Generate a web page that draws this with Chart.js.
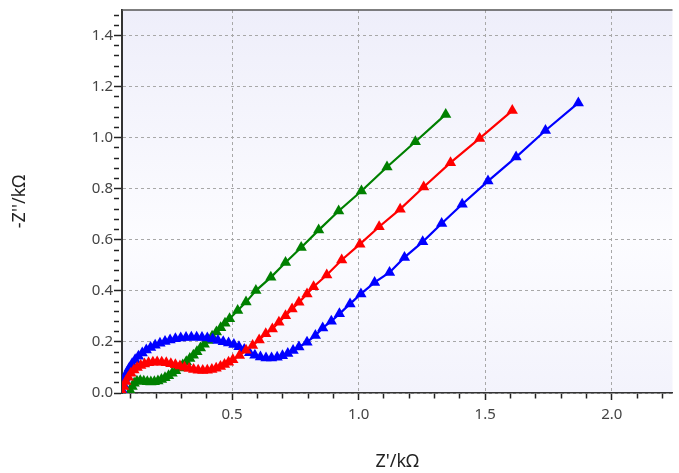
<!DOCTYPE html>
<html lang="en">

<head>
  <title></title>
  <meta charset="UTF-8">
  <script src="https://cdn.jsdelivr.net/npm/chart.js@4.4.1/dist/chart.umd.min.js"></script>
  <style>
    body { margin: 0; background: #fff; }
  </style>
</head>

<body>
  <canvas id="myChart" width="679" height="473"></canvas>
  <script>
    // Z' (kOhm), -Z'' (kOhm)
    const green = [
      [0.098, 0.008], [0.105, 0.025], [0.113, 0.038], [0.124, 0.046], [0.137, 0.048], [0.151, 0.046],
      [0.165, 0.044], [0.179, 0.043], [0.193, 0.044], [0.207, 0.047], [0.221, 0.053], [0.235, 0.060],
      [0.249, 0.068], [0.263, 0.077], [0.277, 0.087], [0.291, 0.098], [0.305, 0.110], [0.319, 0.122],
      [0.333, 0.135], [0.347, 0.148], [0.361, 0.162], [0.375, 0.176], [0.390, 0.191], [0.405, 0.206],
      [0.421, 0.222], [0.438, 0.239], [0.455, 0.256], [0.472, 0.273], [0.490, 0.291], [0.522, 0.323],
      [0.555, 0.356], [0.594, 0.401], [0.653, 0.453], [0.711, 0.511], [0.773, 0.570], [0.842, 0.638],
      [0.921, 0.713], [1.011, 0.791], [1.112, 0.885], [1.224, 0.984], [1.344, 1.091]
    ];
    const red = [
      [0.066, 0.004], [0.072, 0.025], [0.080, 0.045], [0.090, 0.062], [0.100, 0.077], [0.112, 0.090],
      [0.125, 0.100], [0.139, 0.108], [0.154, 0.114], [0.170, 0.118], [0.187, 0.120], [0.204, 0.121],
      [0.222, 0.120], [0.240, 0.118], [0.258, 0.115], [0.276, 0.111], [0.294, 0.106], [0.312, 0.101],
      [0.330, 0.096], [0.348, 0.092], [0.366, 0.089], [0.384, 0.088], [0.402, 0.089], [0.420, 0.092],
      [0.437, 0.097], [0.454, 0.104], [0.470, 0.112], [0.486, 0.120], [0.503, 0.130], [0.529, 0.147],
      [0.555, 0.167], [0.581, 0.186], [0.607, 0.208], [0.633, 0.232], [0.659, 0.251], [0.685, 0.277],
      [0.711, 0.303], [0.737, 0.329], [0.764, 0.355], [0.796, 0.388], [0.822, 0.416], [0.874, 0.462],
      [0.933, 0.521], [1.005, 0.583], [1.081, 0.651], [1.164, 0.720], [1.257, 0.807], [1.363, 0.902],
      [1.478, 0.997], [1.607, 1.106]
    ];
    const blue = [
      [0.066, 0.010], [0.070, 0.035], [0.076, 0.058], [0.084, 0.079], [0.094, 0.098], [0.105, 0.115],
      [0.117, 0.130], [0.130, 0.144], [0.145, 0.157], [0.161, 0.168], [0.178, 0.178], [0.196, 0.187],
      [0.215, 0.195], [0.235, 0.202], [0.255, 0.208], [0.276, 0.212], [0.297, 0.215], [0.318, 0.217],
      [0.339, 0.218], [0.360, 0.218], [0.381, 0.217], [0.402, 0.215], [0.423, 0.211], [0.444, 0.206],
      [0.465, 0.201], [0.486, 0.196], [0.507, 0.190], [0.527, 0.181], [0.548, 0.170], [0.569, 0.158],
      [0.590, 0.148], [0.612, 0.141], [0.634, 0.137], [0.656, 0.137], [0.678, 0.140], [0.699, 0.146],
      [0.720, 0.155], [0.741, 0.166], [0.764, 0.180], [0.796, 0.199], [0.829, 0.225], [0.858, 0.255],
      [0.892, 0.281], [0.924, 0.310], [0.966, 0.349], [1.009, 0.388], [1.063, 0.433], [1.122, 0.472],
      [1.181, 0.531], [1.253, 0.592], [1.328, 0.664], [1.409, 0.739], [1.511, 0.830], [1.622, 0.924],
      [1.738, 1.028], [1.868, 1.136]
    ];

    const xLabels = [0.5, 1.0, 1.5, 2.0];
    const yLabels = [0.0, 0.2, 0.4, 0.6, 0.8, 1.0, 1.2, 1.4];
    const xMinorStep = 0.1;
    const yMinorStep = 0.04;

    const isLabelled = (v, list) => list.some(l => Math.abs(l - v) < 1e-6);

    function minorTicks(min, max, step) {
      const out = [];
      for (let i = Math.ceil(min / step - 1e-6); i * step <= max + 1e-6; i++) {
        out.push({ value: Math.round(i * step * 1000) / 1000 });
      }
      return out;
    }

    const toPoints = arr => arr.map(p => ({ x: p[0], y: p[1] }));

    function series(label, data, color) {
      return {
        label: label,
        data: toPoints(data),
        showLine: true,
        borderColor: color,
        backgroundColor: color,
        borderWidth: 2.2,
        pointStyle: 'triangle',
        pointRadius: 6.5,
        pointHoverRadius: 6.5,
        pointBorderWidth: 0
      };
    }

    // plot area background and the top frame line
    const frame = {
      id: 'frame',
      beforeDraw(chart) {
        const { ctx, chartArea: a } = chart;
        const g = ctx.createLinearGradient(0, a.top, 0, a.bottom);
        g.addColorStop(0, '#eeeefa');
        g.addColorStop(0.6, '#fcfcff');
        g.addColorStop(1, '#f3f3fc');
        ctx.save();
        ctx.fillStyle = g;
        ctx.fillRect(a.left, a.top, a.right - a.left, a.bottom - a.top);
        ctx.restore();
      },
      afterDraw(chart) {
        const { ctx, chartArea: a } = chart;
        ctx.save();
        ctx.strokeStyle = '#555';
        ctx.lineWidth = 1.5;
        ctx.beginPath();
        ctx.moveTo(a.left, a.top);
        ctx.lineTo(a.right, a.top);
        ctx.stroke();
        ctx.restore();
      }
    };

    const tickFont = { family: 'Noto Sans', size: 15 };
    const titleFont = { family: 'Noto Sans', size: 18 };

    new Chart('myChart', {
      type: 'scatter',
      data: {
        datasets: [
          series('red', red, '#ff0000'),
          series('blue', blue, '#0000ff'),
          series('green', green, '#008000')
        ]
      },
      options: {
        responsive: false,
        animation: false,
        layout: { padding: { top: 9, right: 0, left: 0, bottom: 0 } },
        plugins: { legend: { display: false }, tooltip: { enabled: false } },
        scales: {
          x: {
            type: 'linear',
            min: 0.065,
            max: 2.24,
            afterBuildTicks: s => { s.ticks = minorTicks(0.065, 2.24, xMinorStep); },
            afterFit: s => { s.height = 80; },
            ticks: {
              autoSkip: false,
              maxRotation: 0,
              padding: 6,
              color: '#444',
              font: tickFont,
              callback: v => isLabelled(v, xLabels) ? v.toFixed(1) : ''
            },
            grid: {
              color: c => isLabelled(c.tick.value, xLabels) ? '#a8a8a8' : 'rgba(0,0,0,0)',
              lineWidth: 1,
              tickLength: 7,
              tickColor: '#222',
              tickWidth: 1.5,
              tickBorderDash: c => isLabelled(c.tick.value, xLabels) ? [] : [5, 50]
            },
            border: { display: true, color: '#333', width: 1.5, dash: [3, 3] },
            title: {
              display: true,
              text: "Z'/kΩ",
              color: '#222',
              font: titleFont,
              padding: { top: 0, bottom: 0 }
            }
          },
          y: {
            type: 'linear',
            min: 0,
            max: 1.5,
            afterBuildTicks: s => { s.ticks = minorTicks(0, 1.5, yMinorStep); },
            afterFit: s => { s.width = 122; },
            ticks: {
              autoSkip: false,
              padding: 1,
              color: '#444',
              font: tickFont,
              callback: v => isLabelled(v, yLabels) ? v.toFixed(1) : ''
            },
            grid: {
              color: c => isLabelled(c.tick.value, yLabels) ? '#a8a8a8' : 'rgba(0,0,0,0)',
              lineWidth: 1,
              tickLength: 8,
              tickColor: '#222',
              tickWidth: 1.5,
              tickBorderDash: c => isLabelled(c.tick.value, yLabels) ? [] : [5, 50]
            },
            border: { display: true, color: '#333', width: 2, dash: [3, 3] },
            title: {
              display: true,
              text: "-Z''/kΩ",
              color: '#222',
              font: titleFont,
              padding: { top: 9, bottom: 0 }
            }
          }
        }
      },
      plugins: [frame]
    });
  </script>
</body>

</html>
